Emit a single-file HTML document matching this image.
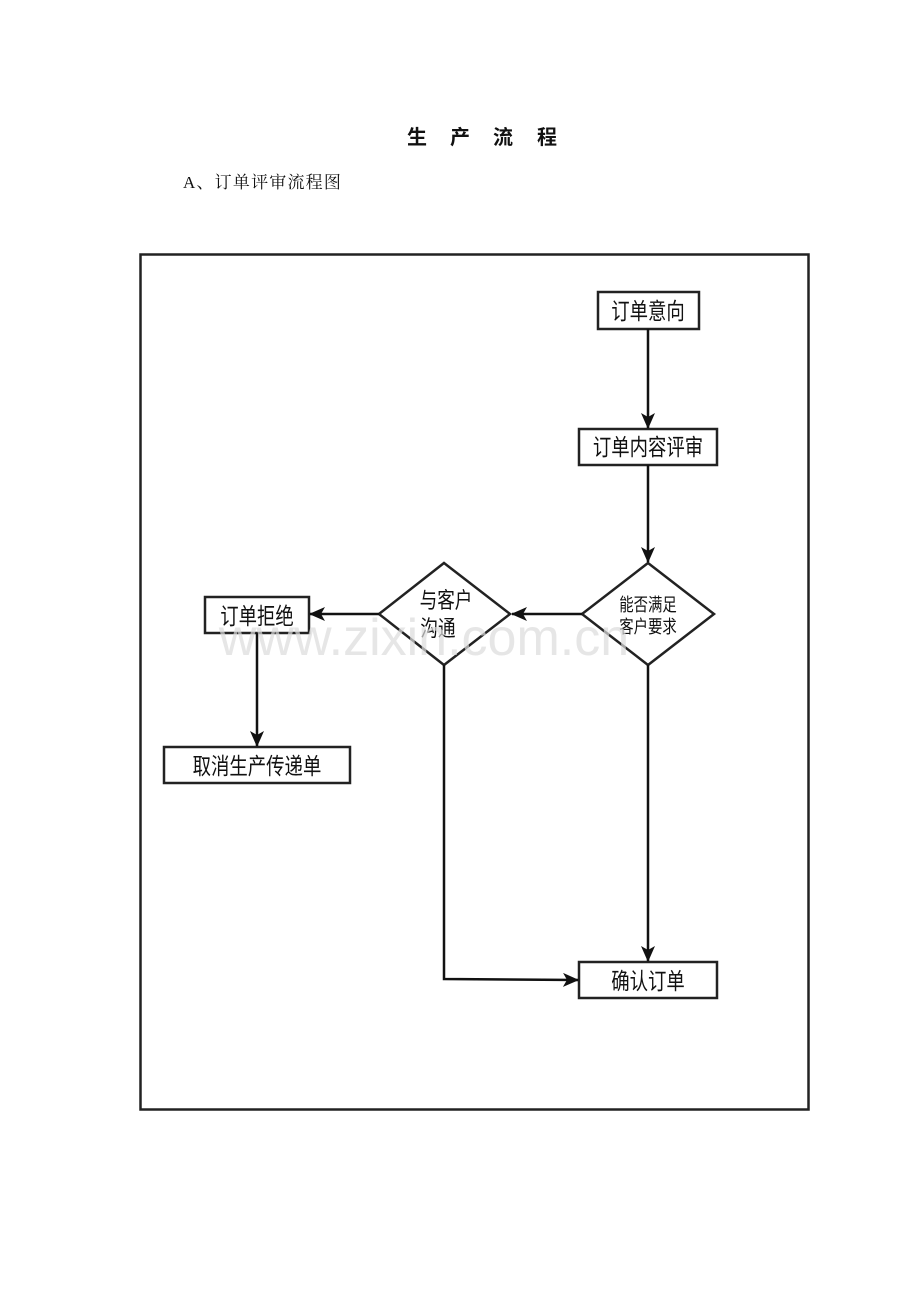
<!DOCTYPE html>
<html><head><meta charset="utf-8"><style>
html,body{margin:0;padding:0;background:#fff;}
body{width:920px;height:1302px;position:relative;overflow:hidden;}
svg{position:absolute;left:0;top:0;}
text{font-family:"Liberation Sans","Noto Sans CJK SC",sans-serif;fill:#111;}
</style></head><body>
<svg width="920" height="1302" viewBox="0 0 920 1302">
<defs>
<marker id="a" markerWidth="16" markerHeight="14" refX="15" refY="7" orient="auto" markerUnits="userSpaceOnUse">
<path d="M0,0 L16,7 L0,14 L4,7 Z" fill="#111"/>
</marker>
</defs>
<text x="407" y="144" font-size="20" font-weight="bold" font-family="Noto Sans CJK SC">生</text>
<text x="450" y="144" font-size="20" font-weight="bold" font-family="Noto Sans CJK SC">产</text>
<text x="493" y="144" font-size="20" font-weight="bold" font-family="Noto Sans CJK SC">流</text>
<text x="537" y="144" font-size="20" font-weight="bold" font-family="Noto Sans CJK SC">程</text>
<text x="183" y="188" font-size="17" letter-spacing="1.2" style="font-family:'Liberation Serif','Noto Serif CJK SC',serif">A、订单评审流程图</text>

<rect x="140.5" y="254.5" width="668" height="855" fill="none" stroke="#222" stroke-width="2.5"/>

<g stroke="#222" stroke-width="2.5" fill="#fff">
<rect x="598" y="292" width="101" height="37"/>
<rect x="579" y="429" width="138" height="36"/>
<rect x="205" y="597" width="104" height="36"/>
<rect x="164" y="747" width="186" height="36"/>
<rect x="579" y="962" width="138" height="36"/>
<polygon points="648,563 714,614 648,665 582,614"/>
<polygon points="444,563 510,614 444,665 379,614"/>
</g>
<g stroke="#111" stroke-width="2.5" fill="none">
<line x1="648" y1="329" x2="648" y2="428" marker-end="url(#a)"/>
<line x1="648" y1="465" x2="648" y2="562" marker-end="url(#a)"/>
<line x1="582" y1="614" x2="512" y2="614" marker-end="url(#a)"/>
<line x1="379" y1="614" x2="310" y2="614" marker-end="url(#a)"/>
<line x1="257" y1="633" x2="257" y2="746" marker-end="url(#a)"/>
<line x1="648" y1="665" x2="648" y2="961" marker-end="url(#a)"/>
<polyline points="444,665 444,979 578,980" marker-end="url(#a)"/>
</g>
<g font-size="23" text-anchor="middle">
<text x="648" y="319" transform="translate(648 0) scale(0.8 1) translate(-648 0)">订单意向</text>
<text x="648" y="455" transform="translate(648 0) scale(0.8 1) translate(-648 0)">订单内容评审</text>
<text x="257" y="624" transform="translate(257 0) scale(0.8 1) translate(-257 0)">订单拒绝</text>
<text x="257" y="774" transform="translate(257 0) scale(0.8 1) translate(-257 0)">取消生产传递单</text>
<text x="648" y="989" transform="translate(648 0) scale(0.8 1) translate(-648 0)">确认订单</text>
</g>
<g font-size="18" text-anchor="middle">
<text x="648" y="611" transform="translate(648 0) scale(0.8 1) translate(-648 0)">能否满足</text>
<text x="648" y="633" transform="translate(648 0) scale(0.8 1) translate(-648 0)">客户要求</text>
</g>
<g font-size="22" text-anchor="middle">
<text x="446" y="608" transform="translate(446 0) scale(0.8 1) translate(-446 0)">与客户</text>
<text x="438" y="636" transform="translate(438 0) scale(0.8 1) translate(-438 0)">沟通</text>
</g>
<text x="424" y="655" font-size="52" text-anchor="middle" style="fill:#dcdcdc;opacity:0.7">www.zixin.com.cn</text>
</svg>
</body></html>
